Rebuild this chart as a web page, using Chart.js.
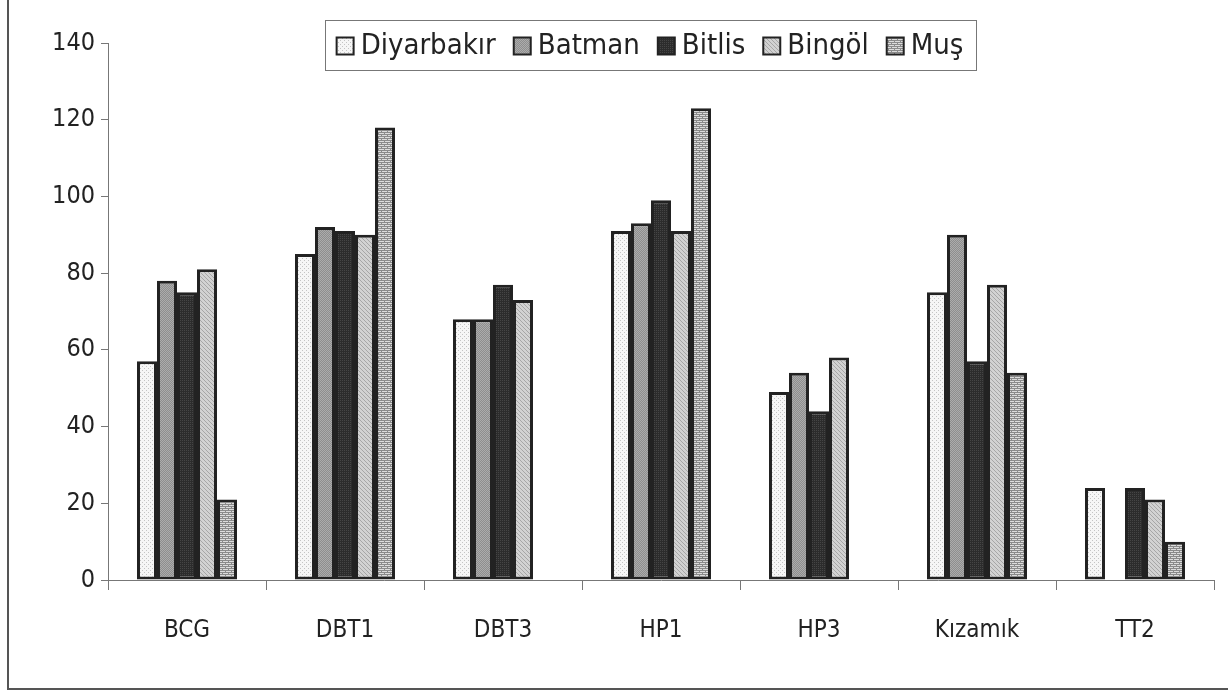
<!DOCTYPE html>
<html>
<head>
<meta charset="utf-8">
<script src="https://cdn.jsdelivr.net/npm/chart.js@4"></script>
<style>
  body { margin: 0; background: #fff; }
  .wrap { position: relative; width: 1228px; height: 693px; }
  .frame {
    position: absolute; left: 7px; top: 0; width: 1221px; height: 688px;
    border-left: 2px solid #555; border-bottom: 2px solid #555;
    pointer-events: none;
  }
</style>
</head>
<body>
<div class="wrap">
  <canvas id="chart"></canvas>
  <div class="frame"></div>
</div>
<script>
const categories = ['BCG', 'DBT1', 'DBT3', 'HP1', 'HP3', 'Kızamık', 'TT2']
const diyarbakir = [57, 85, 68, 91, 49, 75, 24]
const batman = [78, 92, 68, 93, 54, 90, null]
const bitlis = [75, 91, 77, 99, 44, 57, 24]
const bingol = [81, 90, 73, 91, 58, 77, 21]
const mus = [21, 118, null, 123, null, 54, 10]
const yTicks = [0, 20, 40, 60, 80, 100, 120, 140]

const FONT = "'Liberation Sans Narrow', 'DejaVu Sans Condensed', sans-serif"

// small tiled fills that mimic the print patterns
const makePattern = (w, h, bg, fg, dots) => {
  const c = document.createElement('canvas')
  c.width = w
  c.height = h
  const g = c.getContext('2d')
  g.fillStyle = bg
  g.fillRect(0, 0, w, h)
  g.fillStyle = fg
  dots.forEach(([x, y, dw, dh]) => g.fillRect(x, y, dw || 1, dh || 1))
  return document.createElement('canvas').getContext('2d').createPattern(c, 'repeat')
}

const fills = [
  makePattern(4, 4, '#f6f6f6', '#c4c4c4', [[0, 0], [2, 2]]),
  makePattern(2, 2, '#8e8e8e', '#acacac', [[0, 0], [1, 1]]),
  makePattern(2, 2, '#2c2c2c', '#454545', [[0, 0]]),
  makePattern(4, 4, '#d2d2d2', '#a6a6a6', [[0, 0], [1, 1], [2, 2], [3, 3]]),
  makePattern(6, 4, '#dcdcdc', '#8a8a8a', [[0, 0, 6, 1], [0, 1, 1, 1], [3, 2, 1, 2], [0, 2, 6, 0]])
]

const seriesNames = ['Diyarbakır', 'Batman', 'Bitlis', 'Bingöl', 'Muş']
const seriesValues = [diyarbakir, batman, bitlis, bingol, mus]

const boxedLegend = {
  id: 'boxedLegend',
  afterDraw (chart) {
    const ctx = chart.ctx
    const sq = 17
    const gapIn = 7
    const gapOut = 18
    ctx.save()
    ctx.font = `29px ${FONT}`
    const widths = chart.data.datasets.map(ds => ctx.measureText(ds.label).width)
    const total = widths.reduce((s, w) => s + sq + gapIn + w, 0) + gapOut * (widths.length - 1)
    const cx = 650
    const top = 20
    const h = 50
    const left = cx - total / 2 - 12
    ctx.strokeStyle = '#777'
    ctx.lineWidth = 1
    ctx.strokeRect(Math.round(left) + 0.5, top + 0.5, Math.round(total + 24), h)
    let x = cx - total / 2
    const my = top + h / 2 + 1
    chart.data.datasets.forEach((ds, i) => {
      ctx.fillStyle = ds.backgroundColor
      ctx.fillRect(x, my - sq / 2, sq, sq)
      ctx.strokeStyle = '#222'
      ctx.lineWidth = 2
      ctx.strokeRect(x, my - sq / 2, sq, sq)
      ctx.fillStyle = '#222'
      ctx.textBaseline = 'middle'
      ctx.fillText(ds.label, x + sq + gapIn, my)
      x += sq + gapIn + widths[i] + gapOut
    })
    ctx.restore()
  }
}

new Chart(document.getElementById('chart'), {
  type: 'bar',
  data: {
    labels: categories,
    datasets: seriesNames.map((name, i) => ({
      label: name,
      data: seriesValues[i],
      backgroundColor: fills[i],
      borderColor: '#222',
      borderWidth: 3,
      borderSkipped: false,
      categoryPercentage: 0.633,
      barPercentage: 1.0
    }))
  },
  options: {
    responsive: true,
    maintainAspectRatio: false,
    animation: false,
    layout: { padding: { left: 0, right: 14, top: 43, bottom: 0 } },
    plugins: {
      legend: { display: false },
      tooltip: { enabled: false }
    },
    scales: {
      x: {
        grid: { drawOnChartArea: false, offset: true, tickLength: 10, color: '#777' },
        border: { color: '#777', width: 1 },
        ticks: { font: { family: FONT, size: 24 }, color: '#222', padding: 26 },
        afterFit: scale => { scale.height = 113 }
      },
      y: {
        min: 0,
        max: 140,
        afterBuildTicks: scale => { scale.ticks = yTicks.map(v => ({ value: v })) },
        grid: { drawOnChartArea: false, tickLength: 7, color: '#777' },
        border: { color: '#777', width: 1 },
        ticks: { font: { family: FONT, size: 25 }, color: '#222', padding: 6 },
        afterFit: scale => { scale.width = 108 }
      }
    }
  },
  plugins: [boxedLegend]
})
</script>
</body>
</html>
